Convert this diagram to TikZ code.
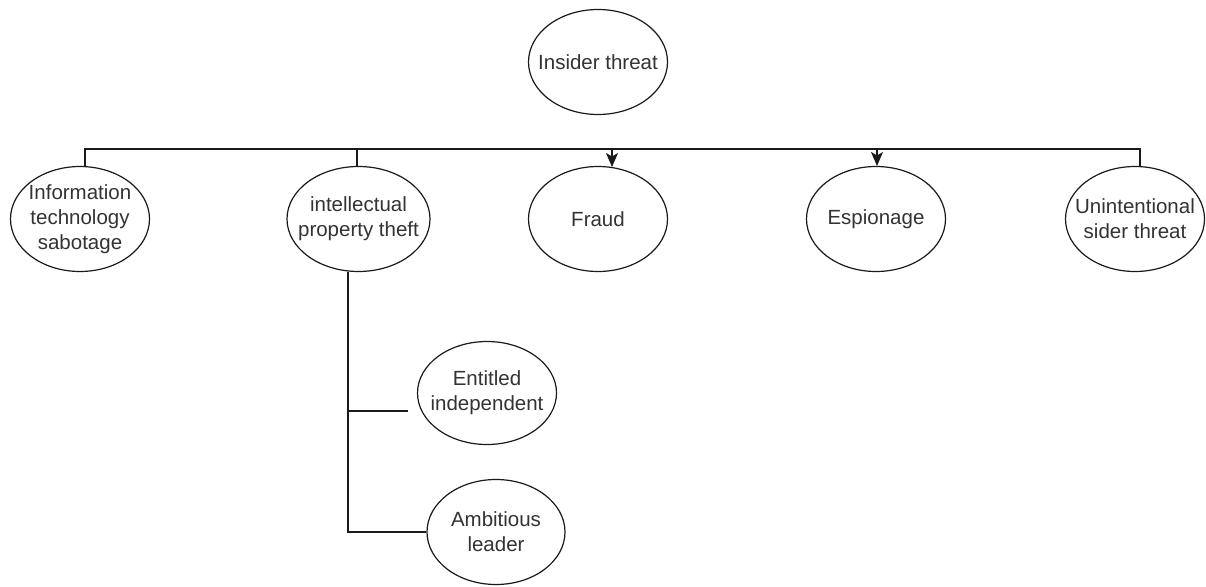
\documentclass[tikz,border=0pt]{standalone}
\usepackage{fontspec}
\setmainfont{Liberation Sans}
\usetikzlibrary{shapes.geometric,arrows.meta}
\definecolor{inkline}{HTML}{1A1A1A}
\definecolor{inktext}{HTML}{333333}
\tikzset{
  bubble/.style={draw=inkline, line width=1.2pt, ellipse, inner sep=0pt,
    minimum width=139pt, minimum height=105pt},
  lbl/.style={text=inktext, align=center, inner sep=0pt,
    font=\fontsize{20.5}{25}\selectfont},
  wire/.style={draw=inkline, line width=1.2pt},
  arr/.style={wire, -{Stealth[length=14pt,width=12pt,inset=3.5pt]}}
}
\begin{document}
\begin{tikzpicture}[x=1pt,y=-1pt]
  \fill[white] (0,0) rectangle (1206,586);
  \useasboundingbox (0,0) rectangle (1206,586);

  % root
  \node[bubble, label={[lbl]center:Insider threat}] (root) at (598,62) {};

  % first level
  \node[bubble, label={[lbl]center:Information\\technology\\sabotage}] (its) at (80,219) {};
  \node[bubble, minimum width=143pt, label={[lbl]center:intellectual\\property theft}] (ipt) at (358.5,219) {};
  \node[bubble, label={[lbl]center:Fraud}] (fraud) at (598,219) {};
  \node[bubble, label={[lbl]center:Espionage}] (esp) at (876,219) {};
  \node[bubble, label={[lbl]center:Unintentional\\sider threat}] (unint) at (1135,219) {};

  % second level
  \node[bubble, minimum height=103pt, label={[lbl]center:Entitled\\independent}] (ent) at (487,393) {};
  \node[bubble, minimum width=138pt, label={[lbl]center:Ambitious\\leader}] (amb) at (496,532) {};

  % horizontal bus
  \coordinate (busL) at (85,149);
  \coordinate (busR) at (1140,149);
  \draw[wire] (its.north -| busL) -- (busL) -- (busR) -- (unint.north -| busR);
  \draw[wire] (ipt.north -| 357,0) -- (357,149);

  % arrows into fraud and espionage
  \coordinate (fraudIn) at (612,167);
  \coordinate (espIn) at (877,166);
  \draw[arr] (fraudIn |- busL) -- (fraudIn);
  \draw[arr] (espIn |- busL) -- (espIn);

  % branch below intellectual property theft
  \coordinate (trunk) at (348,532);
  \coordinate (entEnd) at (408,411);
  \draw[wire] (ipt.south -| trunk) -- (trunk) -- (amb.west);
  \draw[wire] (entEnd -| trunk) -- (entEnd);
\end{tikzpicture}
\end{document}
